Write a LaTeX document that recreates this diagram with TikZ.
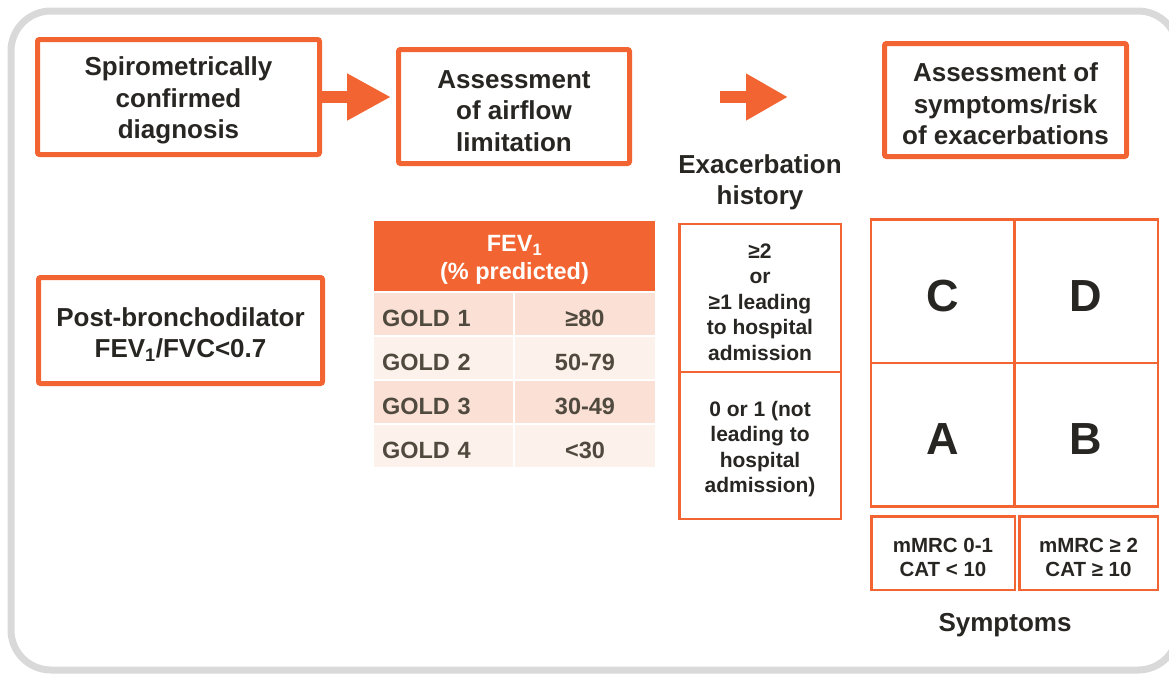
\documentclass[tikz,border=0pt]{standalone}
\usepackage{fontspec}
\setmainfont{Liberation Sans}
\usetikzlibrary{arrows.meta}
\definecolor{goldorange}{RGB}{242, 101, 50}
\definecolor{framegray}{RGB}{217, 217, 217}
\definecolor{textdark}{RGB}{40, 38, 34}
\definecolor{tabletext}{RGB}{80, 74, 62}
\definecolor{rowdark}{RGB}{251, 224, 214}
\definecolor{rowlight}{RGB}{253, 241, 236}
% taller first line, so the text sits a little lower in its box
\newcommand{\lift}{\rule{0pt}{\dimexpr0.75em+7pt\relax}}

\begin{document}
\begin{tikzpicture}[x=1pt, y=-1pt,
    every node/.style={text=textdark},
    stepbox/.style={draw=goldorange, line width=5pt, rounded corners=2pt, align=center, inner sep=0pt, font=\fontsize{26}{31.5}\selectfont\bfseries},
    gridcell/.style={draw=goldorange, line width=2.5pt, align=center, inner sep=0pt},
    tablecell/.style={minimum height=42pt, inner ysep=0pt, text=tabletext, font=\fontsize{23.5}{28}\selectfont\bfseries},
    flowarrow/.style={goldorange, line width=12pt, -{Triangle[length=44pt,width=44pt]}}]
    \useasboundingbox (0,0) rectangle (1169,675);

    % Outer frame
    \draw[framegray, line width=7pt, rounded corners=40pt] (11,11) rectangle (1178,670);

    % Top row of steps
    \node[stepbox, minimum width=282pt, minimum height=115pt] (diagnosis) at (178.5,97) {\lift Spirometrically\\confirmed\\diagnosis};
    \node[stepbox, minimum width=231pt, minimum height=114pt] (airflow) at (514,106.5) {\lift Assessment\\of airflow\\limitation};
    \node[stepbox, minimum width=242pt, minimum height=113pt] (symrisk) at (1005.5,100) {\lift Assessment of\\symptoms/risk\\of exacerbations};
    \draw[flowarrow, shorten >=5pt] (diagnosis.east) -- (diagnosis.east -| airflow.west);
    \coordinate (arrstart) at (720,97);
    \coordinate (arrend) at (788,97);
    \draw[flowarrow, -{Triangle[length=42pt,width=44pt]}] (arrstart) -- (arrend);

    % Spirometry criterion
    \node[stepbox, minimum width=284pt, minimum height=106pt] (postbd) at (180.5,330.5) {\lift Post-bronchodilator\\FEV\textsubscript{1}/FVC<0.7};

    % GOLD grades table
    \node[fill=goldorange, minimum width=281pt, minimum height=70pt, inner sep=0pt, align=center, text=white, font=\fontsize{23.5}{28}\selectfont\bfseries] (fevhead) at (514.5,256) {\lift FEV\textsubscript{1}\\(\% predicted)};
    \foreach \lab/\val/\rowc [count=\i] in {GOLD 1/{≥80}/rowdark, GOLD 2/{50-79}/rowlight, GOLD 3/{30-49}/rowdark, GOLD 4/{<30}/rowlight} {
        \node[tablecell, fill=\rowc, text width=123pt, inner xsep=8pt, align=left] (gold\i) at (443.5,{314+44*(\i-1)}) {\lift\lab};
        \node[tablecell, fill=\rowc, minimum width=140pt, inner xsep=0pt] (fev\i) at (585,{314+44*(\i-1)}) {\lift\val};
    }

    % Exacerbation history
    \node[align=center, font=\fontsize{26}{31}\selectfont\bfseries] (exachead) at (760,178) {\lift Exacerbation\\history};
    \node[gridcell, minimum width=161.5pt, minimum height=148pt, font=\fontsize{21}{25.5}\selectfont\bfseries] (exhigh) at (760,298) {\lift≥2\\or\\≥1 leading\\to hospital\\admission};
    \node[gridcell, minimum width=161.5pt, minimum height=146.75pt, font=\fontsize{21}{25.5}\selectfont\bfseries] (exlow) at (760,445.4) {\lift 0 or 1 (not\\leading to\\hospital\\admission)};

    % ABCD groups
    \foreach \grp/\cx/\cy in {C/942.5/291, D/1086/291, A/942.5/434.5, B/1086/434.5} {
        \node[gridcell, minimum width=143.5pt, minimum height=143.5pt, font=\fontsize{45}{50}\selectfont\bfseries] (group\grp) at (\cx,\cy) {\lift\grp};
    }

    % Symptom scores
    \node[gridcell, minimum width=143.5pt, minimum height=73.5pt, font=\fontsize{20.5}{24}\selectfont\bfseries] (symlow) at (943,553) {\lift mMRC 0-1\\CAT < 10};
    \node[gridcell, minimum width=138.5pt, minimum height=73.5pt, font=\fontsize{20.5}{24}\selectfont\bfseries] (symhigh) at (1088.5,553) {\lift mMRC ≥ 2\\CAT ≥ 10};
    \node[font=\fontsize{26}{31}\selectfont\bfseries] (symlabel) at (1005,621) {\lift Symptoms};
\end{tikzpicture}
\end{document}
